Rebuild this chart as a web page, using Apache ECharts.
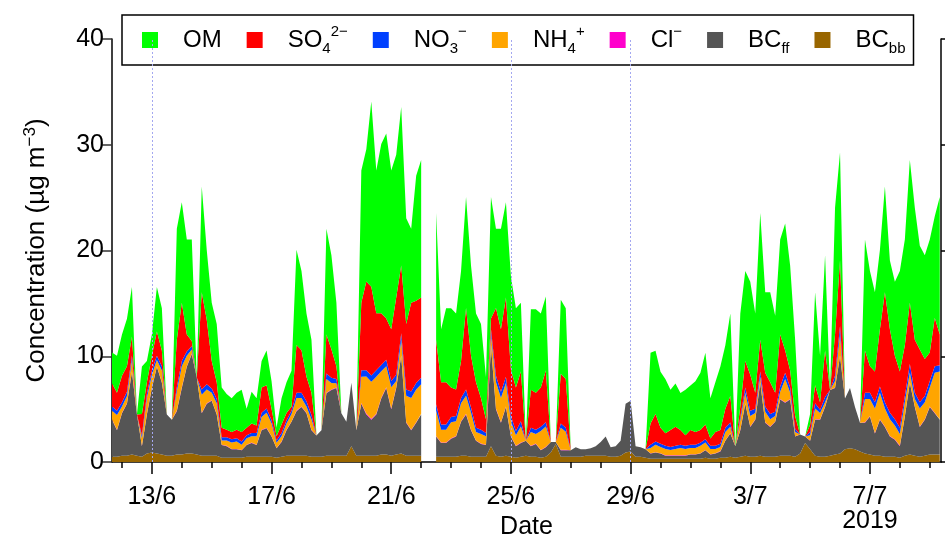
<!DOCTYPE html>
<html>
<head>
<meta charset="utf-8">
<script src="https://cdn.jsdelivr.net/npm/echarts@6/dist/echarts.min.js"></script>
<style>
  html, body { margin: 0; padding: 0; background: #fff; }
  #chart { width: 945px; height: 540px; }
</style>
</head>
<body>
<div id="chart"></div>
<script>
// Aerosol composition, 4-hourly, 11/6 16:00 to 9/7 08:00 (2019), µg m-3
const startHour = 16;          // hours after 2019-06-11 00:00
const stepHours = 4;

const BCbb = [
  0.5,0.5,0.6,0.6,0.7,0.6,0.5,0.8,0.9,0.8,
  0.7,0.6,0.6,0.7,0.7,0.8,0.8,0.7,0.6,0.6,
  0.6,0.6,0.4,0.4,0.4,0.4,0.4,0.5,0.5,0.5,
  0.5,0.5,0.5,0.4,0.5,0.6,0.6,0.6,0.6,0.6,
  0.5,0.5,0.5,0.6,0.6,0.6,0.6,0.6,1.5,0.6,
  0.6,0.6,0.6,0.6,0.7,0.7,0.6,0.7,0.8,0.6,
  0.6,0.6,0.6,null,null,0.5,0.5,0.5,0.5,0.5,
  0.6,0.6,0.5,0.5,0.5,0.5,1.5,0.6,0.5,0.6,
  0.5,0.4,0.5,0.6,0.5,0.5,0.4,0.5,0.9,1.7,
  0.5,0.5,0.5,0.5,0.5,0.6,0.6,0.6,0.6,0.6,
  0.5,0.5,0.6,0.9,1.0,0.5,0.5,0.4,0.3,0.3,
  0.3,0.3,0.3,0.3,0.3,0.3,0.3,0.3,0.3,0.4,
  0.3,0.3,0.4,0.4,0.5,0.4,0.5,0.6,0.5,0.5,
  0.6,0.5,0.5,0.5,0.6,0.6,0.6,0.5,0.8,1.8,
  1.2,0.6,0.5,0.5,0.6,0.7,0.8,1.2,1.3,1.2,
  1.0,0.8,0.7,0.6,0.6,0.5,0.5,0.5,0.4,0.6,
  0.7,0.6,0.5,0.6,0.7,0.7,0.7
];

const BCff = [
  3.5,2.5,4.0,4.9,7.8,3.9,1.0,3.7,6.1,8.2,
  6.8,3.9,3.4,4.1,6.3,8.2,9.4,7.3,4.0,4.9,
  5.2,3.9,1.2,1.1,0.8,0.8,0.7,1.1,1.3,1.1,
  2.5,2.7,1.9,0.9,1.4,2.4,3.2,4.2,4.6,4.0,
  2.5,2.0,2.5,5.9,6.2,6.4,4.0,3.2,6.0,2.4,
  4.9,3.9,3.4,3.9,5.3,6.3,4.4,6.3,9.2,3.1,
  2.4,3.1,3.9,null,null,1.9,1.3,1.3,1.7,1.9,
  3.2,3.9,2.5,1.5,1.2,1.1,9.5,4.4,3.2,4.6,
  1.9,1.1,1.3,1.4,1.0,1.2,0.7,0.9,1.0,0.2,
  0.6,0.6,0.6,0.9,0.7,0.6,0.7,0.9,1.3,1.8,
  0.9,1.0,1.4,4.6,4.8,1.0,0.9,0.8,0.5,0.6,
  0.5,0.3,0.3,0.3,0.3,0.3,0.4,0.4,0.5,0.7,
  0.4,0.5,0.6,1.6,2.2,1.1,2.5,4.9,2.8,3.5,
  6.9,3.2,2.8,3.3,5.3,5.0,5.3,1.9,1.8,0.6,
  0.8,3.4,3.5,4.7,6.2,6.3,9.2,4.8,5.7,4.0,
  2.7,2.9,3.6,2.1,3.4,2.8,1.9,1.6,1.1,3.7,
  6.8,4.6,2.8,3.4,4.5,3.9,3.3
];

const Cl = [
  .05,.05,.05,.05,.06,0,.04,.05,.05,.05,
  .05,0,0,.06,.06,.05,.05,0,.06,.05,
  .05,.05,.04,.04,.04,.04,.04,.04,.04,.04,
  .05,.05,.04,.03,.04,.04,.04,.06,.06,.05,
  .05,0,0,.06,.06,.05,0,0,0,0,
  .07,.08,.08,.07,.07,.06,.06,.06,.07,.06,
  .06,.06,.06,null,null,.05,.05,.05,.05,.05,
  .05,.06,.05,.04,.04,.04,.06,.06,.05,.06,
  .05,.04,.05,0,.04,.04,.04,.05,0,0,
  .05,.05,0,0,0,0,0,0,0,0,
  0,0,0,0,0,0,0,0,.03,.03,
  .03,.03,.03,.03,.03,.03,.03,.03,.03,.04,
  .03,.03,.03,.04,.04,0,.04,.05,.05,.04,
  .05,.05,.05,.04,.05,.05,.05,.04,0,0,
  .03,.05,.04,.05,0,.05,.07,0,0,0,
  0,.05,.05,.05,.05,.05,.05,.05,.05,.05,
  .06,.05,.05,.05,.05,.05,.05
];

const NH4 = [
  0.8,1.4,0.6,0.7,1.1,0,0.7,1.5,1.2,0.6,
  1.1,0,0,1.8,2.0,1.0,0.4,0,1.7,1.3,
  0.7,1.0,0.4,0.5,0.6,0.7,0.5,0.6,0.6,0.8,
  1.2,1.4,1.2,0.5,0.5,0.6,0.7,1.2,0.8,0.6,
  1.0,0,0,1.3,0.6,0.4,0,0,0,0,
  2.5,3.5,3.5,3.5,2.5,2.0,2.0,0.6,1.5,2.5,
  3.0,3.1,2.8,null,null,2.4,1.2,1.2,1.5,1.4,
  1.7,1.7,1.6,0.8,0.9,0.8,1.0,2.5,2.3,2.2,
  1.4,1.0,1.5,0,1.3,0.9,1.8,1.9,0,0,
  2.1,1.7,0,0,0,0,0,0,0,0,
  0,0,0,0,0,0,0,0,0.5,0.7,
  0.6,0.6,0.5,0.6,0.7,0.6,0.6,0.6,0.7,0.7,
  0.5,0.4,0.4,0.8,0.6,0,0.9,1.0,1.0,0.6,
  0.5,1.0,0.7,0.5,0.7,2.2,0.6,0.4,0,0,
  0.5,1.0,0.6,0.4,0,0.6,2.0,0,0,0,
  0,2.2,1.6,2.3,2.5,1.7,1.6,1.3,1.1,1.3,
  0.9,0.7,1.7,1.6,1.8,3.8,4.5
];

const NO3 = [
  0.4,0.4,0.4,0.4,0.4,0,0.3,0.4,0.4,0.4,
  0.4,0,0,0.4,0.5,0.4,0.3,0,0.5,0.5,
  0.4,0.4,0.3,0.3,0.3,0.3,0.3,0.3,0.3,0.3,
  0.4,0.4,0.3,0.2,0.3,0.3,0.3,0.5,0.5,0.5,
  0.4,0,0,0.5,0.5,0.4,0,0,0,0,
  0.6,0.6,0.6,0.6,0.6,0.6,0.6,0.6,0.6,0.6,
  0.6,0.6,0.6,null,null,0.6,0.5,0.5,0.5,0.5,
  0.5,0.6,0.5,0.4,0.4,0.3,0.5,0.6,0.6,0.6,
  0.5,0.4,0.5,0,0.4,0.4,0.4,0.4,0,0,
  0.4,0.4,0,0,0,0,0,0,0,0,
  0,0,0,0,0,0,0,0,0.3,0.3,
  0.3,0.3,0.3,0.3,0.3,0.3,0.3,0.3,0.3,0.3,
  0.3,0.3,0.3,0.4,0.4,0,0.3,0.5,0.5,0.4,
  0.5,0.5,0.5,0.4,0.5,0.6,0.5,0.3,0,0,
  0.3,0.5,0.3,0.5,0,0.5,0.8,0,0,0,
  0,0.6,0.6,0.6,0.6,0.6,0.6,0.6,0.6,0.6,
  0.8,0.6,0.6,0.6,0.6,0.6,0.6
];

const SO4 = [
  2.2,1.7,2.5,2.4,1.8,0,2.0,1.1,1.4,2.3,
  1.5,0,0,4.5,5.5,1.6,0.5,0,9.2,6.1,
  2.6,1.6,0.9,0.7,0.7,0.8,0.9,0.7,0.9,0.7,
  2.4,2.2,1.1,0.4,0.8,0.7,0.4,4.5,4.0,2.3,
  2.1,0,0,3.7,2.7,1.2,0,0,0,0,
  6.4,8.4,8.4,5.4,4.9,3.9,4.9,7.3,6.4,6.2,
  8.4,7.8,7.6,null,null,6.1,4.0,4.0,2.8,2.5,
  3.5,7.7,4.9,4.3,3.0,1.3,1.0,6.4,5.9,7.5,
  4.4,4.1,4.7,0,3.6,3.5,3.7,4.9,0,0,
  4.7,4.6,0,0,0,0,0,0,0,0,
  0,0,0,0,0,0,0,0,2.0,2.6,
  1.5,1.2,1.6,1.8,1.4,1.0,1.4,1.2,1.2,1.4,
  0.7,1.3,1.3,1.8,2.5,0,1.0,2.5,3.4,1.5,
  3.0,3.2,3.0,1.8,4.9,2.1,1.6,1.2,0,0,
  0.7,1.7,0.7,4.4,0,3.9,6.2,0,0,0,
  0,4.0,2.5,2.9,5.4,10.4,7.9,6.0,5.3,4.8,
  5.8,5.0,5.0,3.5,2.7,4.6,2.9
];

const OM = [
  2.9,3.5,3.9,4.5,4.7,0,4.5,2.0,2.0,4.2,
  4.0,0,0,10.5,9.5,9.0,9.6,0,10.0,6.6,
  5.5,5.5,3.8,3.4,3.2,3.5,4.0,1.8,3.0,2.6,
  2.5,3.3,2.6,0.8,2.5,2.9,3.4,9.0,7.5,6.0,
  5.0,0,0,10.0,8.9,6.0,0,0,0,0,
  12.5,12.5,17.5,13.5,16.0,17.5,15.0,13.5,15.0,10.0,
  7.0,11.8,13.0,null,null,12.0,5.0,7.0,7.5,7.2,
  8.5,10.5,8.5,6.5,7.0,4.0,11.5,7.5,9.5,9.0,
  8.8,7.5,6.5,0,7.6,7.9,7.0,7.0,0,0,
  7.0,6.7,0,0,0,0,0,0,0,0,
  0,0,0,0,0,0,0,0,6.7,6.0,
  5.3,5.1,3.8,4.1,3.5,4.3,4.2,4.8,5.4,6.8,
  3.8,4.7,6.0,6.0,7.8,0,8.8,8.5,8.8,7.5,
  12.0,7.6,8.5,7.3,9.0,12.0,9.9,7.2,0,0,
  1.0,8.8,4.4,9.0,0,12.0,10.2,0,0,0,
  0,10.5,9.0,7.5,7.5,10.0,6.5,7.0,9.5,10.0,
  13.5,12.5,9.8,9.8,10.7,9.6,13.0
];

// Axis ticks, in hours after 2019-06-11 00:00
const xMinHour = 16, xMaxHour = 681;
const dayTickHours = [24,48,72,96,120,144,168,192,216,240,264,288,312,336,360,384,408,432,456,480,504,528,552,576,600,624,648,672];
const labelHours = [48, 144, 240, 336, 432, 528, 624];
const tickLabels = ['13/6', '17/6', '21/6', '25/6', '29/6', '3/7', '7/7\n2019'];
const markerHours = [48, 336, 432];

const FONT = "'Liberation Sans', Arial, sans-serif";

const species = [
  { name: 'BCbb', data: BCbb, color: '#996600' },
  { name: 'BCff', data: BCff, color: '#555555' },
  { name: 'Cl',   data: Cl,   color: '#ff00cc' },
  { name: 'NH4',  data: NH4,  color: '#ffa500' },
  { name: 'NO3',  data: NO3,  color: '#0040ff' },
  { name: 'SO4',  data: SO4,  color: '#ff0000' },
  { name: 'OM',   data: OM,   color: '#00ff00' }
];

const legendText = {
  OM:   '{b|OM}',
  SO4:  '{b|SO}{sub|4}{sup|2−}',
  NO3:  '{b|NO}{sub|3}{sup|−}',
  NH4:  '{b|NH}{sub|4}{sup|+}',
  Cl:   '{b|Cl}{sup|−}',
  BCff: '{b|BC}{sub|ff}',
  BCbb: '{b|BC}{sub|bb}'
};

// value first, hour second: the stacked dimension has to be the concentration
const series = species.map(s => ({
  name: s.name,
  type: 'line',
  stack: 'total',
  z: 3,
  symbol: 'none',
  silent: true,
  connectNulls: false,
  encode: { x: 1, y: 0 },
  lineStyle: { width: 0 },
  itemStyle: { color: s.color },
  areaStyle: { color: s.color, opacity: 1 },
  emphasis: { disabled: true },
  data: s.data.map((v, i) => [v, startHour + i * stepHours])
}));

// dotted day markers drawn underneath the stacked areas
series.push({
  name: 'markers',
  type: 'line',
  z: 1,
  data: [],
  silent: true,
  markLine: {
    silent: true,
    symbol: ['none', 'none'],
    label: { show: false },
    lineStyle: { type: [2, 2], color: '#a4a8f0', width: 1 },
    data: markerHours.map(h => ({ xAxis: h }))
  }
});

const chart = echarts.init(document.getElementById('chart'), null, { renderer: 'canvas' });
chart.setOption({
  animation: false,
  backgroundColor: '#fff',
  textStyle: { fontFamily: FONT },
  grid: { left: 112, right: 4, top: 39, bottom: 78, containLabel: false, outerBoundsMode: 'none' },
  legend: {
    data: ['OM', 'SO4', 'NO3', 'NH4', 'Cl', 'BCff', 'BCbb'],
    left: 122,
    top: 15,
    orient: 'horizontal',
    icon: 'rect',
    itemWidth: 16,
    itemHeight: 16,
    itemGap: 25,
    padding: [9, 8, 9, 20],
    borderColor: '#000',
    borderWidth: 1.5,
    backgroundColor: '#fff',
    selectedMode: false,
    formatter: name => legendText[name],
    textStyle: {
      fontFamily: FONT,
      color: '#000',
      padding: [0, 0, 0, 20],
      rich: {
        b: { fontFamily: FONT, fontSize: 24, color: '#000', lineHeight: 32 },
        sub: { fontFamily: FONT, fontSize: 15, color: '#000', verticalAlign: 'bottom', lineHeight: 32, padding: [12, 0, 0, 0] },
        sup: { fontFamily: FONT, fontSize: 15, color: '#000', verticalAlign: 'top', lineHeight: 32, padding: [0, 0, 12, 0] }
      }
    }
  },
  xAxis: [
    {
      type: 'value',
      min: xMinHour,
      max: xMaxHour,
      position: 'bottom',
      axisLine: { show: true, lineStyle: { color: '#000', width: 1.5 } },
      axisTick: { show: true, customValues: dayTickHours, length: 6, lineStyle: { color: '#000', width: 1.5 } },
      axisLabel: { show: false },
      splitLine: { show: false },
      name: 'Date',
      nameLocation: 'middle',
      nameGap: 53,
      nameTextStyle: { fontFamily: FONT, fontSize: 25, color: '#000' }
    },
    {
      type: 'value',
      min: xMinHour,
      max: xMaxHour,
      position: 'bottom',
      axisLine: { show: false },
      axisTick: { show: true, customValues: labelHours, length: 12, lineStyle: { color: '#000', width: 1.5 } },
      axisLabel: {
        show: true,
        customValues: labelHours,
        margin: 23,
        fontFamily: FONT,
        fontSize: 25,
        color: '#000',
        lineHeight: 24,
        formatter: v => tickLabels[labelHours.indexOf(v)]
      },
      splitLine: { show: false }
    }
  ],
  yAxis: [
    {
      type: 'value',
      min: 0,
      max: 40,
      interval: 10,
      position: 'left',
      axisLine: { show: true, lineStyle: { color: '#000', width: 1.5 } },
      axisTick: { show: true, length: 10, lineStyle: { color: '#333', width: 1.5 } },
      axisLabel: { margin: 8, fontFamily: FONT, fontSize: 25, color: '#000' },
      splitLine: { show: false },
      name: '{a|Concentration (µg m}{s|−3}{a|)}',
      nameLocation: 'middle',
      nameRotate: 90,
      nameGap: 60,
      nameTextStyle: {
        rich: {
          a: { fontFamily: FONT, fontSize: 26, color: '#000', lineHeight: 30 },
          s: { fontFamily: FONT, fontSize: 17, color: '#000', verticalAlign: 'top', lineHeight: 30, padding: [0, 0, 12, 0] }
        }
      }
    },
    {
      type: 'value',
      min: 0,
      max: 40,
      interval: 10,
      position: 'right',
      axisLine: { show: true, lineStyle: { color: '#000', width: 1.5 } },
      axisTick: { show: true, length: 5, lineStyle: { color: '#000', width: 1.5 } },
      axisLabel: { show: false },
      splitLine: { show: false }
    }
  ],
  series: series
});
</script>
</body>
</html>
